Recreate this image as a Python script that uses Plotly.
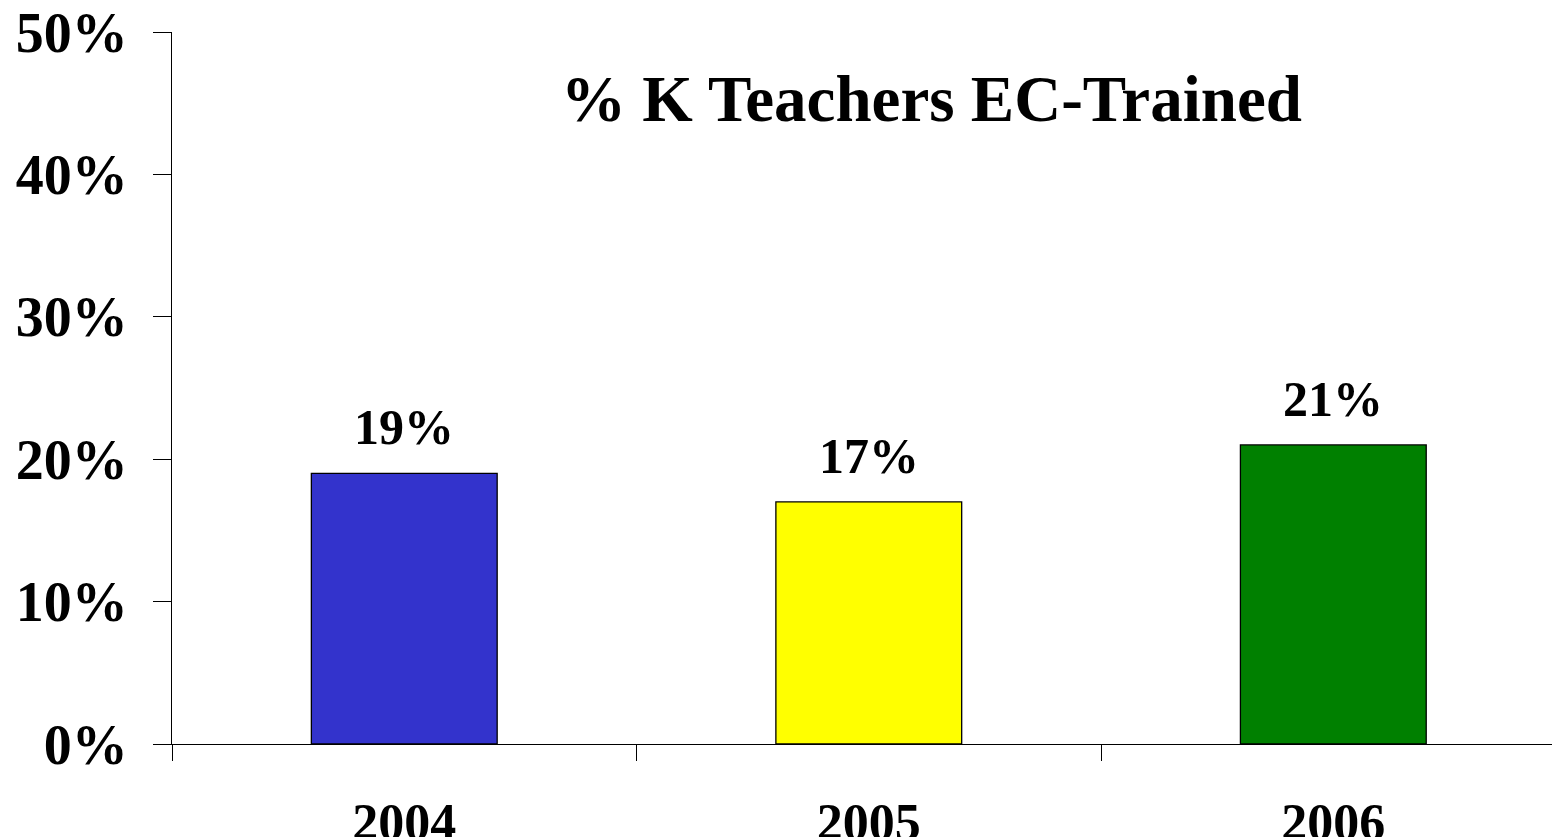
import plotly.graph_objects as go

years = ["2004", "2005", "2006"]
values = [19, 17, 21]
labels = ["19%", "17%", "21%"]
colors = ["#3333CC", "#FFFF00", "#008000"]
y_ticks = [0, 10, 20, 30, 40, 50]
y_tick_text = ["0%", "10%", "20%", "30%", "40%", "50%"]
title_text = "% K Teachers EC-Trained"

FONT = "Liberation Serif"

fig = go.Figure()
fig.add_trace(go.Bar(
    x=years, y=values, width=0.4,
    marker=dict(color=colors, line=dict(color="black", width=1.3)),
    showlegend=False, hoverinfo="skip",
))

for i, (v, lab) in enumerate(zip(values, labels)):
    fig.add_annotation(x=i, y=v, text="<b>%s</b>" % lab, showarrow=False,
                       xref="x", yref="y",
                       yanchor="bottom", yshift=16,
                       font=dict(family=FONT, size=50, color="black"))

fig.add_annotation(xref="paper", yref="paper", x=0.547, y=0.906,
                   text="<b>%s</b>" % title_text, showarrow=False,
                   xanchor="center", yanchor="middle",
                   font=dict(family=FONT, size=65, color="black"))

# page body has an 8px margin, so the figure is sized/offset to compensate
fig.update_layout(
    width=1552, height=829,
    margin=dict(l=164, r=0, t=24, b=93, autoexpand=False),
    paper_bgcolor="white", plot_bgcolor="white",
    bargap=0.6,
)
fig.update_xaxes(
    type="category", range=[-0.5, 2.488], automargin=False,
    showline=True, linecolor="black", linewidth=1.3,
    ticks="outside", tickson="boundaries", ticklen=16, tickcolor="black", tickwidth=1.3,
    ticklabelstandoff=32, ticklabeloverflow="allow",
    showgrid=False, zeroline=False,
    tickfont=dict(family=FONT, size=52, color="black", weight="bold"),
)
fig.update_yaxes(
    range=[0, 50], tickvals=y_ticks, ticktext=y_tick_text, automargin=False,
    showline=True, linecolor="black", linewidth=1.3,
    ticks="outside", ticklen=18, tickcolor="black", tickwidth=1.3,
    ticklabelstandoff=14, ticklabeloverflow="allow",
    showgrid=False, zeroline=False,
    tickfont=dict(family=FONT, size=56, color="black", weight="bold"),
)

fig.write_html("out.html")
